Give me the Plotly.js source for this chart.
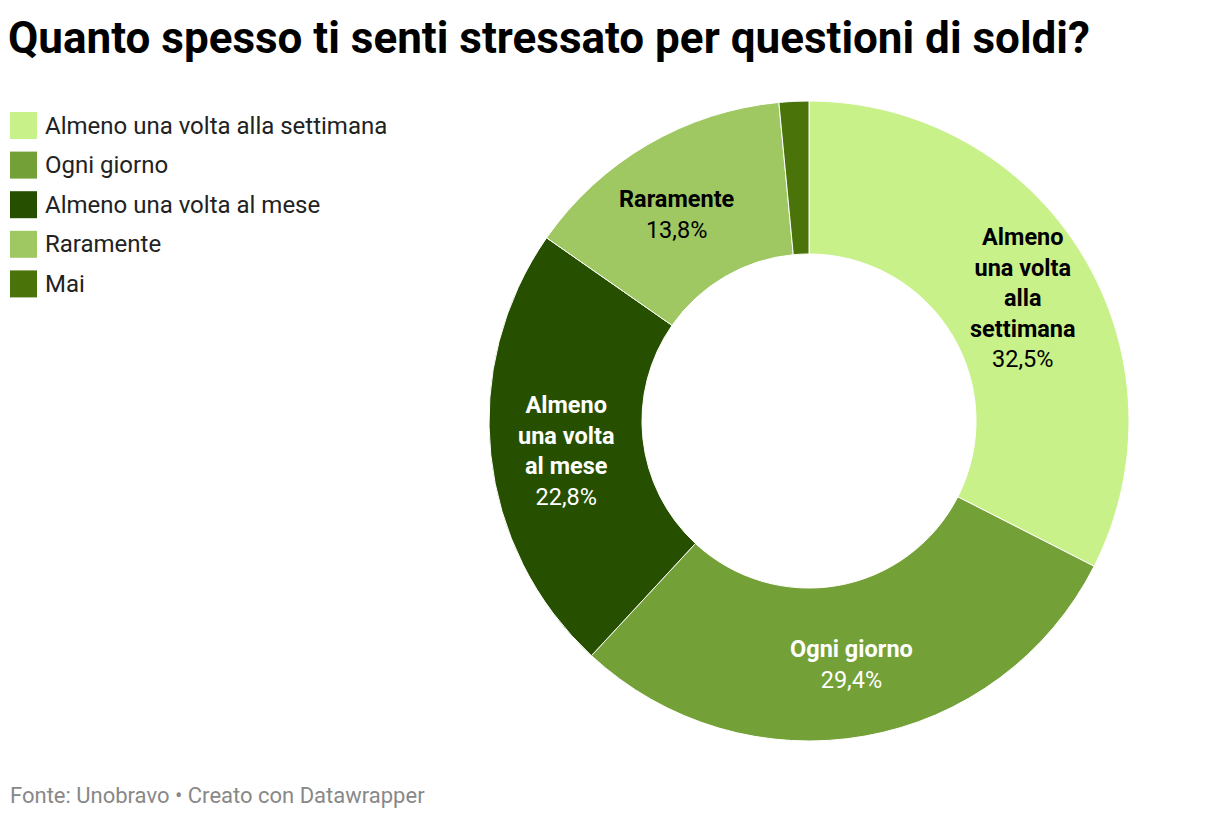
<!DOCTYPE html>
<html>
<head>
<meta charset="utf-8">
<script src="https://cdn.plot.ly/plotly-3.0.1.min.js"></script>
<style>
  html, body { margin: 0; padding: 0; background: #fff; }
  #chart { width: 1220px; height: 818px; }
</style>
</head>
<body>
<div id="chart"></div>
<script>
// ---- Data ----
const labels = ['Almeno una volta alla settimana', 'Ogni giorno', 'Almeno una volta al mese', 'Raramente', 'Mai'];
const values = [32.5, 29.4, 22.8, 13.8, 1.5];
const wrappedLabels = ['Almeno<br>una volta<br>alla<br>settimana', 'Ogni giorno', 'Almeno<br>una volta<br>al mese', 'Raramente', ''];
const colors = ['#c9f18a', '#74a038', '#264f00', '#9fc862', '#4a730a'];
const textColors = ['#000000', '#ffffff', '#ffffff', '#000000', '#000000'];
const showLabel = [true, true, true, true, false];
const labelShiftX = [6, 0, 0, -9, 0];

const W = 1220, H = 818;
const px = x => x / W;
const py = y => 1 - y / H;

// pie geometry (layout)
const CX = 809, CY = 421, R_OUT = 320, HOLE = 0.522;
const R_MID = R_OUT * (1 + HOLE) / 2;

const trace = {
  type: 'pie',
  labels: labels,
  values: values,
  textinfo: 'none',
  sort: false,
  direction: 'clockwise',
  rotation: 0,
  hole: HOLE,
  marker: { colors: colors, line: { color: '#ffffff', width: 1 } },
  domain: { x: [px(CX - R_OUT), px(CX + R_OUT)], y: [py(CY + R_OUT), py(CY - R_OUT)] },
  showlegend: false,
  hoverinfo: 'none'
};

const shapes = [];
const annotations = [];

// slice labels placed at each slice's mid-angle, computed from the values
const total = values.reduce((a, b) => a + b, 0);
let cum = 0;
values.forEach((v, i) => {
  const mid = (cum + v / 2) / total;
  cum += v;
  if (!showLabel[i]) return;
  const th = mid * 2 * Math.PI;
  const x = CX + R_MID * Math.sin(th);
  const y = CY - R_MID * Math.cos(th);
  const pct = v.toFixed(1).replace('.', ',') + '%';
  annotations.push({
    xref: 'paper', yref: 'paper', x: px(x), y: py(y), xanchor: 'center', yanchor: 'middle',
    xshift: labelShiftX[i], yshift: -4,
    text: '<b>' + wrappedLabels[i] + '</b><br>' + pct, showarrow: false, align: 'center',
    font: { family: 'Roboto, sans-serif', size: 23.5, color: textColors[i] }
  });
});

// legend
labels.forEach((lab, i) => {
  const yc = 125.5 + i * 39.6;
  shapes.push({
    type: 'rect', xref: 'paper', yref: 'paper',
    x0: px(10), x1: px(37), y0: py(yc - 13.5), y1: py(yc + 13.5),
    fillcolor: colors[i], line: { width: 0 }
  });
  annotations.push({
    xref: 'paper', yref: 'paper', x: px(43), y: py(yc), xanchor: 'left', yanchor: 'middle',
    text: lab, showarrow: false,
    font: { family: 'Roboto, sans-serif', size: 24, color: '#222222' }
  });
});
annotations.push({
  xref: 'paper', yref: 'paper', x: px(8), y: py(795), xanchor: 'left', yanchor: 'middle',
  text: 'Fonte: Unobravo • Creato con Datawrapper', showarrow: false,
  font: { family: 'Roboto, sans-serif', size: 22, color: '#888888' }
});

const layout = {
  width: W, height: H,
  margin: { l: 0, r: 0, t: 0, b: 0 },
  paper_bgcolor: '#ffffff',
  separators: ',.',
  title: {
    text: '<b>Quanto spesso ti senti stressato per questioni di soldi?</b>',
    x: px(8), xanchor: 'left', xref: 'paper',
    y: 1 - 38 / H, yanchor: 'middle', yref: 'container',
    font: { family: 'Roboto, sans-serif', size: 44, color: '#000000' }
  },
  shapes: shapes,
  annotations: annotations
};

Plotly.newPlot('chart', [trace], layout, { displayModeBar: false, staticPlot: true });
</script>
</body>
</html>
